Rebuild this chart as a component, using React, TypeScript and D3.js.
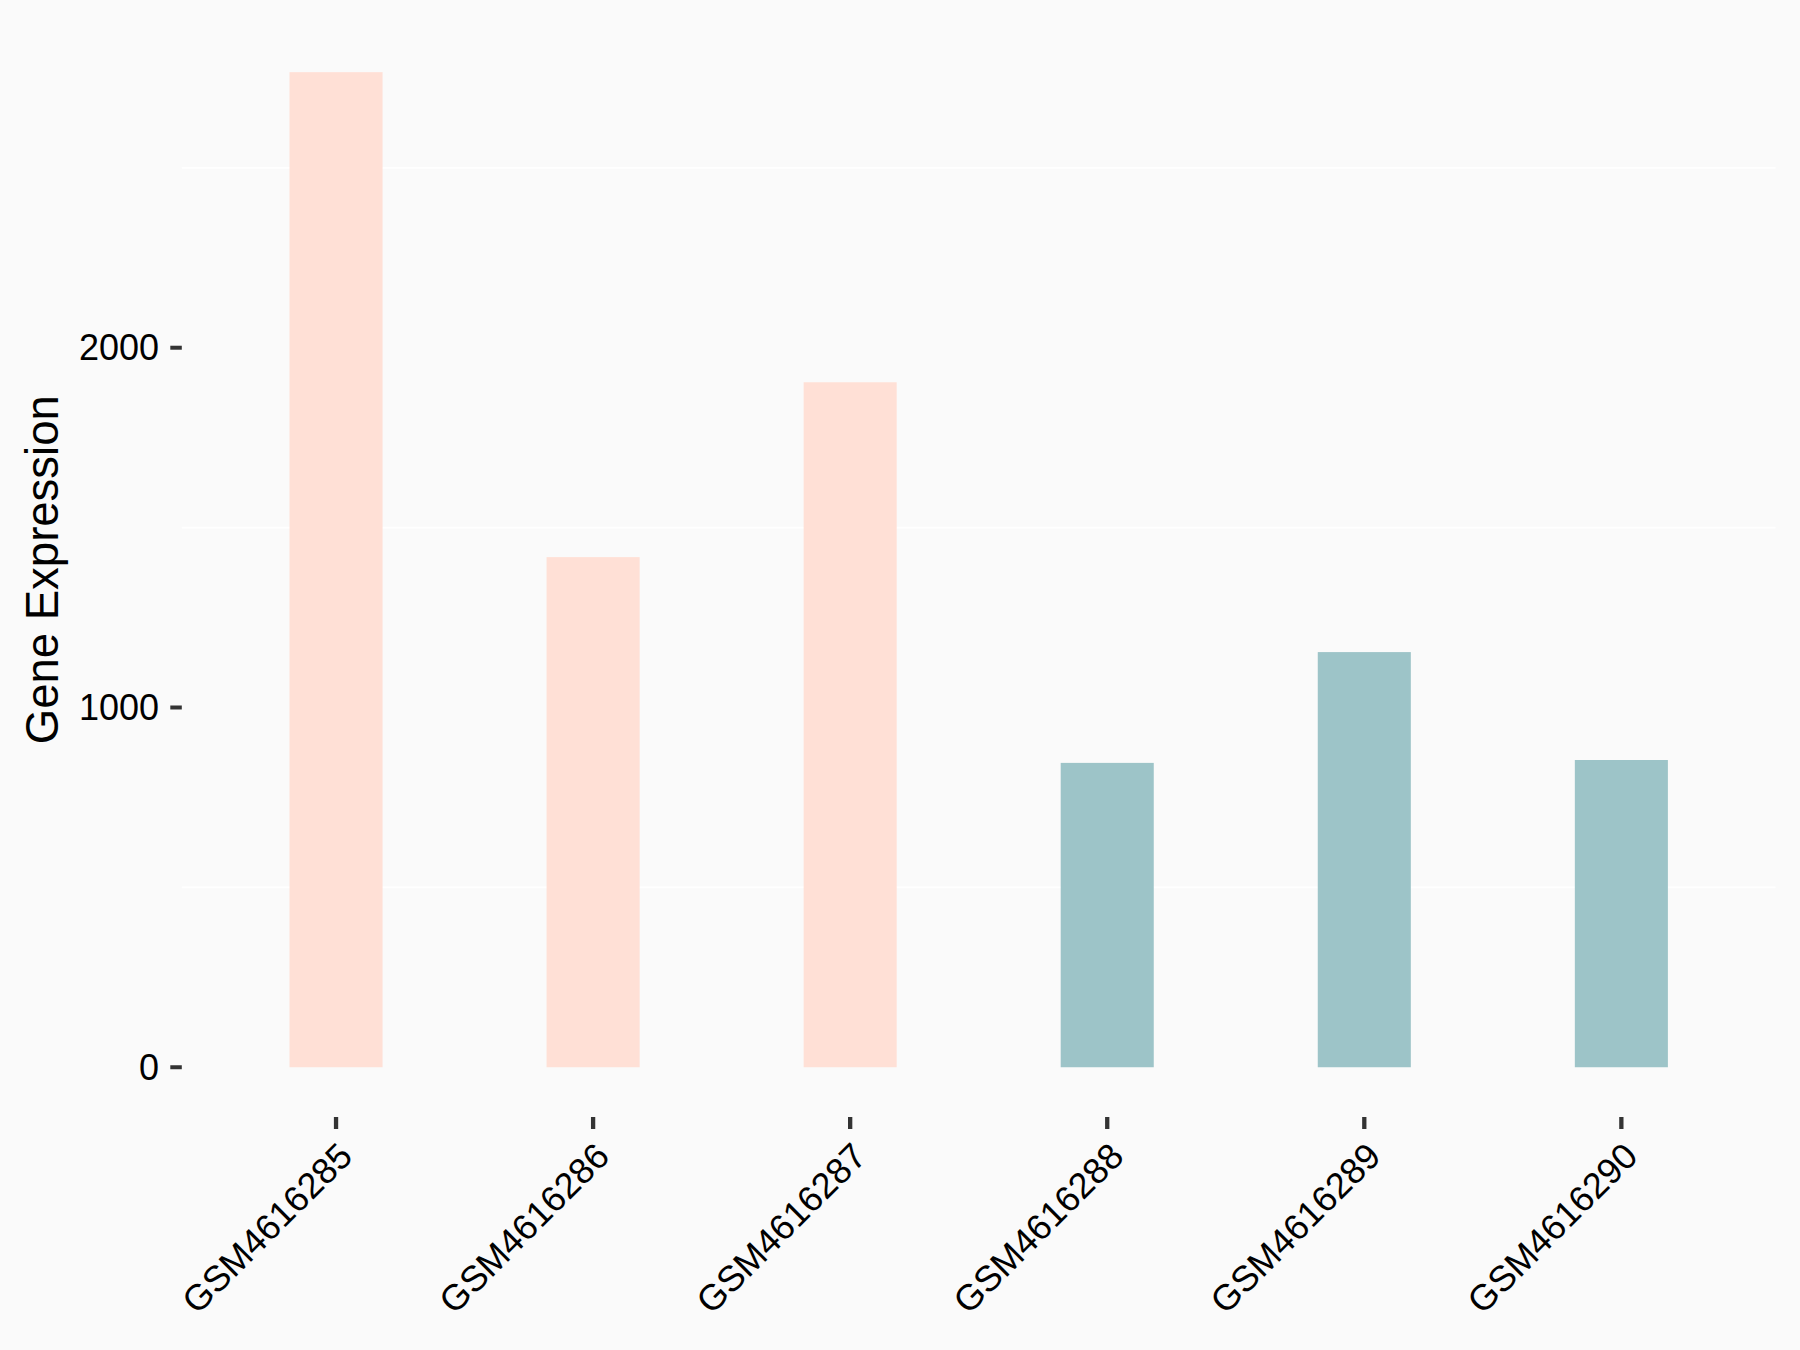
import React from "react";
import * as d3 from "d3";

const samples = ["GSM4616285", "GSM4616286", "GSM4616287", "GSM4616288", "GSM4616289", "GSM4616290"];
const expression = [2766, 1418, 1904, 846, 1154, 854];
const groups = ["A", "A", "A", "B", "B", "B"];
const groupColors = { A: "#FFE0D6", B: "#9DC4C8" };
const yTicks = [0, 1000, 2000];
const yMinorGrid = [500, 1500, 2500];

const W = 1800;
const H = 1350;
const panel = { left: 181.8, right: 1775.6, top: 22.4, bottom: 1117 };

export default function App() {
  const maxV = d3.max(expression) as number;
  const x = d3.scalePoint<string>().domain(samples).range([panel.left, panel.right]).padding(0.6);
  const step = x.step();
  const barW = step * 0.362;
  const y = d3.scaleLinear().domain([-0.05 * maxV, 1.05 * maxV]).range([panel.bottom, panel.top]);
  const font = "'Liberation Sans', Arial, sans-serif";

  return (
    <svg width={W} height={H} style={{ position: "absolute", left: 0, top: 0, display: "block" }} fontFamily={font}>
      <rect x={0} y={0} width={W} height={H} fill="#FAFAFA" />
      {yMinorGrid.map((v) => (
        <line key={"g" + v} x1={panel.left} x2={panel.right} y1={y(v)} y2={y(v)} stroke="#FFFFFF" strokeWidth={1.8} />
      ))}
      {samples.map((s, i) => (
        <rect
          key={s}
          x={(x(s) as number) - barW / 2}
          y={y(expression[i])}
          width={barW}
          height={y(0) - y(expression[i])}
          fill={groupColors[groups[i] as "A" | "B"]}
        />
      ))}
      {yTicks.map((v) => (
        <g key={"t" + v}>
          <line x1={panel.left - 11.5} x2={panel.left} y1={y(v)} y2={y(v)} stroke="#333333" strokeWidth={4} />
          <text x={159} y={y(v)} textAnchor="end" dominantBaseline="central" fontSize={36} fill="#000">
            {v}
          </text>
        </g>
      ))}
      {samples.map((s) => (
        <g key={"x" + s}>
          <line x1={x(s)} x2={x(s)} y1={panel.bottom} y2={panel.bottom + 12} stroke="#333333" strokeWidth={4.3} />
          <text
            transform={`translate(${x(s)},${panel.bottom + 23}) rotate(-45)`}
            textAnchor="end"
            dy="0.72em"
            fontSize={36}
            fill="#000"
          >
            {s}
          </text>
        </g>
      ))}
      <text
        transform={`translate(57.5,${(panel.top + panel.bottom) / 2}) rotate(-90)`}
        textAnchor="middle"
        fontSize={45.5}
        fill="#000"
      >
        Gene Expression
      </text>
    </svg>
  );
}
